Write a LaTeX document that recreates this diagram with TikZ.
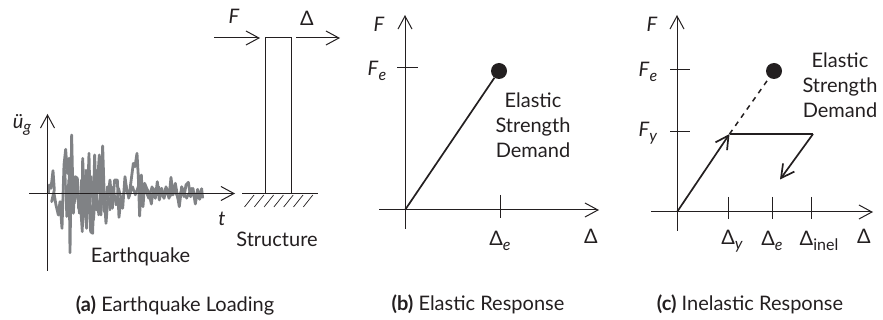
\documentclass[tikz,border=0pt]{standalone}
\usepackage{fontspec}
\setmainfont{Lato}
\usetikzlibrary{arrows.meta}
\definecolor{quake}{HTML}{808285}
\definecolor{ink}{HTML}{231F20}
\tikzset{
  axisline/.style={draw=ink,line width=1pt,-{Straight Barb[length=13pt,width=14pt,line width=1pt]}},
  plainline/.style={draw=ink,line width=1pt},
  curveline/.style={draw=ink,line width=1.7pt},
  curvearrow/.style={curveline,-{Straight Barb[length=13pt,width=14pt,line width=1.7pt]}},
  lbl/.style={font=\fontsize{20}{24}\selectfont,text=ink,inner sep=0pt,align=center},
  captext/.style={font=\fontsize{20}{24}\selectfont,text=ink,inner sep=0pt},
  dotmark/.style={circle,fill=ink,minimum size=16pt,inner sep=0pt},
  quakeline/.style={draw=quake,line width=2.8pt,line join=round},
}
\newcommand{\sym}[2]{\textit{#1}\raisebox{-0.45ex}{\fontsize{16}{17}\selectfont\textit{#2}}}
\newcommand{\dlt}[1]{Δ\raisebox{-0.45ex}{\fontsize{16}{17}\selectfont\textit{#1}}}
\begin{document}
\begin{tikzpicture}[x=1pt,y=-1pt]
\useasboundingbox (0,0) rectangle (883,320);
% (a)
\begin{scope}[shift={(20,130)},x=0.3333pt,y=-0.3333pt]
\draw[quakeline] (85,190)--(88,165)--(93,175)--(99,122)--(103,180)--(95,215)--(102,190)--(108,225)--(115,255)--(120,215)--(126,295)--(132,105)--(137,58)--(142,130)--(147,85)--(150,368)--(155,15)--(160,250)--(166,140)--(172,145)--(176,235)--(181,215)--(187,305)--(188,85)--(194,230)--(200,295)--(207,70)--(212,305)--(218,310)--(224,75)--(229,240)--(233,150)--(238,75)--(243,255)--(248,48)--(253,205)--(258,280)--(264,200)--(270,150)--(277,235)--(284,150)--(292,150)--(297,262)--(303,205)--(308,235)--(315,140)--(320,180)--(327,200)--(333,155)--(340,100)--(345,110)--(351,70)--(355,140)--(359,258)--(364,135)--(369,230)--(374,160)--(380,175)--(388,190)--(394,222)--(400,175)--(406,205)--(412,155)--(418,210)--(425,175)--(432,205)--(440,175)--(447,205)--(453,142)--(459,195)--(466,160)--(472,195)--(478,230)--(485,170)--(492,200)--(498,165)--(505,157)--(512,200)--(519,175)--(526,222)--(533,178)--(539,208)--(545,176)--(548,205);
\draw[quakeline,line width=2.4pt] (135,120)--(140,260)--(146,150)--(152,240)--(158,130)--(163,220)--(170,170)--(178,250)--(184,150)--(192,260)--(198,120)--(205,240)--(214,140)--(221,270)--(228,170)--(236,255)--(245,160)--(252,245)--(262,170)--(270,240)--(280,170)--(288,225)--(296,175)--(306,215)--(318,165)--(326,205)--(338,170)--(346,195)--(356,165)--(366,205)--(376,180)--(386,205)--(396,170)--(404,200)--(416,170)--(428,200)--(438,170)--(450,200)--(462,175)--(474,205)--(488,175)--(500,205)--(514,175)--(530,205)--(544,185);
\end{scope}
\coordinate (ayb) at (47.5,271);
\coordinate (ayt) at (47.5,114);
\coordinate (axl) at (29,193.5);
\coordinate (axr) at (235,193.5);
\draw[axisline] (ayb)--(ayt);
\draw[axisline] (axl)--(axr);
\node[lbl] (ug) at (22,125) {\sym{ü}{g}};
\node[lbl] (tlabel) at (222,219) {\textit{t}};
\node[lbl] (eq) at (140.5,257) {Earthquake};
\node[captext] (capa) at (175,305) {\textbf{(a)} Earthquake Loading};
% structure
\node[draw=ink,line width=1pt,minimum width=26pt,minimum height=156pt,inner sep=0pt] (col) at (278,116) {};
\coordinate (gl) at (242,194);
\coordinate (gr) at (318,194);
\draw[plainline] (gl)--(gr);
\foreach \x in {0,...,6}{
  \draw[draw=ink,line width=0.7pt] (254+\x*9.8,195)--(244.5+\x*9.8,207);
}
\coordinate (fs) at (214,38);
\coordinate (ds) at (296,38);
\coordinate (de) at (340,38);
\coordinate (fe) at (260,38);
\draw[axisline] (fs)--(fe);
\draw[axisline] (ds)--(de);
\node[lbl] (Flab) at (234,16) {\textit{F}};
\node[lbl] (Dlab) at (307,18) {Δ};
\node[lbl] (str) at (277,239) {Structure};
% (b)
\coordinate (b0) at (405,210);
\coordinate (byb) at (405,229);
\coordinate (byt) at (405,15);
\coordinate (bxl) at (379,210);
\coordinate (bxr) at (599,210);
\draw[axisline] (byb)--(byt);
\draw[axisline] (bxl)--(bxr);
\coordinate (bt1) at (397,68);
\coordinate (bt2) at (418,68);
\draw[plainline] (bt1)--(bt2);
\coordinate (bt3) at (500.5,195);
\coordinate (bt4) at (500.5,218);
\draw[plainline] (bt3)--(bt4);
\node[dotmark] (bdot) at (499,71) {};
\draw[curveline] (b0)--(bdot);
\node[lbl] (bF) at (379,24) {\textit{F}};
\node[lbl] (bFe) at (377,71) {\sym{F}{e}};
\node[lbl] (bDe) at (500,241) {\dlt{e}};
\node[lbl] (bD) at (591,236) {Δ};
\node[lbl] (belastic) at (533,125) {Elastic\\[1pt]Strength\\[1pt]Demand};
\node[captext] (capb) at (478,304) {\textbf{(b)} Elastic Response};
% (c)
\coordinate (c0) at (677,212);
\coordinate (cyb) at (677,231);
\coordinate (cyt) at (677,15);
\coordinate (cxl) at (651,212);
\coordinate (cxr) at (873,212);
\draw[axisline] (cyb)--(cyt);
\draw[axisline] (cxl)--(cxr);
\foreach \n/\y in {e/70,y/132}{
  \coordinate (ct\n a) at (670,\y);
  \coordinate (ct\n b) at (690,\y);
  \draw[plainline] (ct\n a)--(ct\n b);
}
\foreach \n/\x in {y/728,e/772,i/811}{
  \coordinate (cu\n a) at (\x,197);
  \coordinate (cu\n b) at (\x,219);
  \draw[plainline] (cu\n a)--(cu\n b);
}
\node[dotmark] (cdot) at (774,71) {};
\coordinate (cy) at (729.5,134);
\coordinate (cp) at (813,134);
\coordinate (cq) at (780,179.5);
\draw[curvearrow] (c0)--(cy);
\draw[curveline] (cy)--(cp);
\draw[curvearrow] (cp)--(cq);
\draw[curveline,line width=1.5pt,dash pattern=on 5pt off 5pt] (cy)--(cdot);
\node[lbl] (cF) at (652,24) {\textit{F}};
\node[lbl] (cFe) at (648,72) {\sym{F}{e}};
\node[lbl] (cFy) at (648,133) {\sym{F}{y}};
\node[lbl] (cDy) at (732,241) {\dlt{y}};
\node[lbl] (cDe) at (772,241) {\dlt{e}};
\node[lbl] (cDi) at (819,241) {Δ\raisebox{-0.45ex}{\fontsize{16}{17}\selectfont inel}};
\node[lbl] (cD) at (864,236) {Δ};
\node[lbl] (celastic) at (840,85) {Elastic\\[1pt]Strength\\[1pt]Demand};
\node[captext] (capc) at (750,304) {\textbf{(c)} Inelastic Response};
\end{tikzpicture}
\end{document}
